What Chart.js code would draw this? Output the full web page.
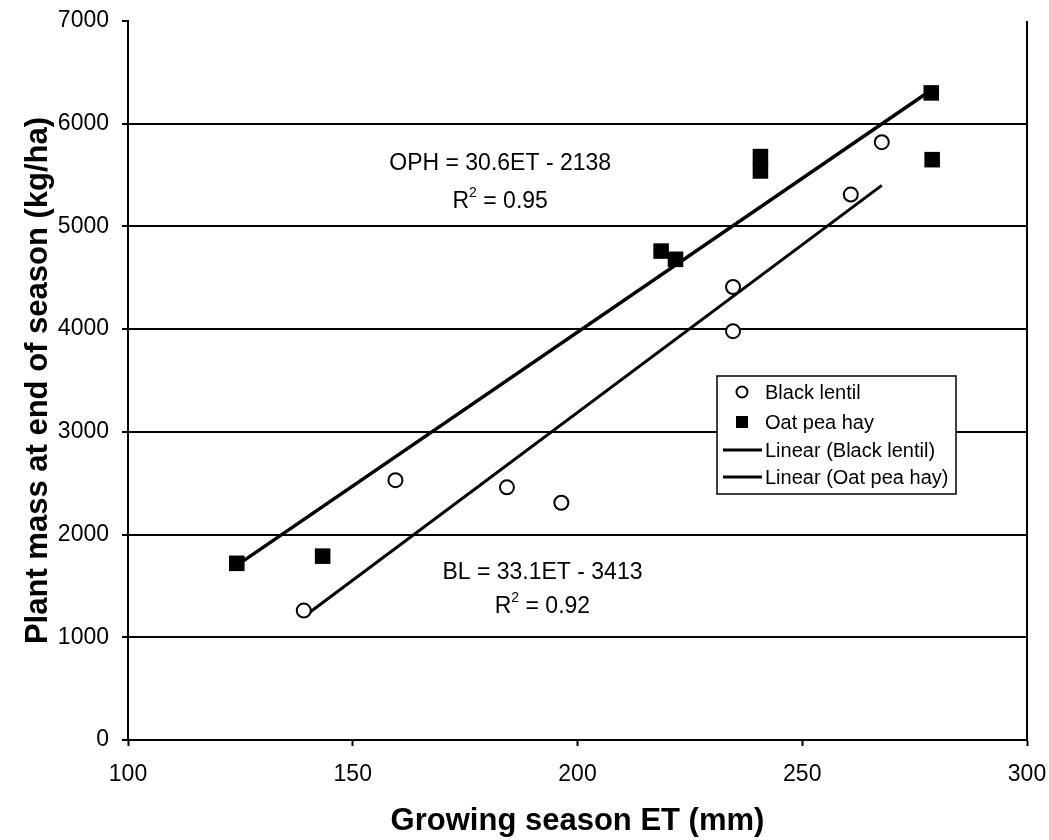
<!DOCTYPE html>
<html>
<head>
<meta charset="utf-8">
<script src="https://cdn.jsdelivr.net/npm/chart.js@4.4.1/dist/chart.umd.min.js"></script>
<style>
  html, body { margin: 0; padding: 0; background: #ffffff; }
  #wrap { position: relative; width: 1049px; height: 840px; }
</style>
</head>
<body>
<div id="wrap"><canvas id="c" width="1049" height="840"></canvas></div>
<script>
// ---- data ----
const blET   = [139.1, 159.5, 184.3, 196.4, 234.6, 234.6, 260.8, 267.7];
const blMass = [1260, 2530, 2460, 2310, 4410, 3980, 5310, 5820];
const ophET   = [124.2, 143.3, 218.6, 221.8, 240.7, 240.7, 278.7, 278.9];
const ophMass = [1720, 1790, 4760, 4680, 5680, 5540, 6300, 5650];
const blTrendET   = [139.1, 267.7];
const blTrendMass = [1200, 5400];
const ophTrendET   = [124.2, 278.8];
const ophTrendMass = [1700, 6330];
const xTicks = [100, 150, 200, 250, 300];
const yTicks = [0, 1000, 2000, 3000, 4000, 5000, 6000, 7000];
const seriesLabels = ['Black lentil', 'Oat pea hay', 'Linear (Black lentil)', 'Linear (Oat pea hay)'];
const xTitle = 'Growing season ET (mm)';
const yTitle = 'Plant mass at end of season (kg/ha)';
const eqOPH = ['OPH = 30.6ET - 2138', '0.95'];
const eqBL  = ['BL = 33.1ET - 3413', '0.92'];

const FONT = "'Liberation Sans', Arial, Helvetica, sans-serif";
const pts = (xs, ys) => xs.map((x, i) => ({ x: x, y: ys[i] }));

// annotation anchors (data space) for the equation text blocks
const annotations = [
  { lines: eqOPH, x: 182.8, y: 5610, y2: 5245 },
  { lines: eqBL,  x: 192.2, y: 1625, y2: 1300 }
];

const annotationPlugin = {
  id: 'eqText',
  afterDatasetsDraw(chart) {
    const ctx = chart.ctx, xs = chart.scales.x, ys = chart.scales.y;
    ctx.save();
    ctx.fillStyle = '#000';
    ctx.textBaseline = 'middle';
    annotations.forEach(a => {
      const cx = xs.getPixelForValue(a.x);
      ctx.font = '23px ' + FONT;
      ctx.textAlign = 'center';
      ctx.fillText(a.lines[0], cx, ys.getPixelForValue(a.y));
      const y2 = ys.getPixelForValue(a.y2);
      const partR = 'R', partRest = ' = ' + a.lines[1];
      const wR = ctx.measureText(partR).width;
      const wRest = ctx.measureText(partRest).width;
      ctx.font = '14px ' + FONT;
      const wSup = ctx.measureText('2').width;
      const total = wR + wSup + wRest;
      const sx = cx - total / 2;
      ctx.textAlign = 'left';
      ctx.font = '23px ' + FONT;
      ctx.fillText(partR, sx, y2);
      ctx.font = '14px ' + FONT;
      ctx.fillText('2', sx + wR, y2 - 8);
      ctx.font = '23px ' + FONT;
      ctx.fillText(partRest, sx + wR + wSup, y2);
    });
    ctx.restore();
  }
};

const frameLegendPlugin = {
  id: 'frameLegend',
  afterDraw(chart) {
    const ctx = chart.ctx, ca = chart.chartArea;
    ctx.save();
    ctx.strokeStyle = '#000';
    ctx.lineWidth = 2;
    ctx.beginPath();
    ctx.moveTo(ca.right, ca.top);
    ctx.lineTo(ca.right, ca.bottom);
    ctx.stroke();
    // legend box
    const lx = ca.left + 589, ly = ca.top + 355, lw = 239, lh = 118;
    ctx.fillStyle = '#fff';
    ctx.fillRect(lx, ly, lw, lh);
    ctx.lineWidth = 1.5;
    ctx.strokeRect(lx, ly, lw, lh);
    const rowY = [16, 46, 74, 101];
    ctx.font = '20px ' + FONT;
    ctx.textBaseline = 'middle';
    ctx.textAlign = 'left';
    chart.data.datasets.forEach((ds, i) => {
      const y = ly + rowY[i];
      const mx = lx + 25;
      if (i === 0) {
        ctx.beginPath();
        ctx.arc(mx, y, 5.5, 0, Math.PI * 2);
        ctx.fillStyle = '#fff';
        ctx.fill();
        ctx.lineWidth = 2;
        ctx.strokeStyle = '#000';
        ctx.stroke();
      } else if (i === 1) {
        ctx.fillStyle = '#000';
        ctx.fillRect(mx - 6, y - 6, 12, 12);
      } else {
        ctx.strokeStyle = '#000';
        ctx.lineWidth = 3;
        ctx.beginPath();
        ctx.moveTo(lx + 6, y);
        ctx.lineTo(lx + 45, y);
        ctx.stroke();
      }
      ctx.fillStyle = '#000';
      ctx.fillText(ds.label, lx + 48, y + 1);
    });
    ctx.restore();
  }
};

new Chart(document.getElementById('c'), {
  type: 'scatter',
  data: {
    datasets: [
      {
        label: seriesLabels[0],
        data: pts(blET, blMass),
        pointStyle: 'circle',
        pointRadius: 7,
        pointBorderWidth: 2,
        pointBackgroundColor: '#fff',
        pointBorderColor: '#000',
        order: 1
      },
      {
        label: seriesLabels[1],
        data: pts(ophET, ophMass),
        pointStyle: 'rect',
        pointRadius: 11,
        pointBorderWidth: 0,
        pointBackgroundColor: '#000',
        pointBorderColor: '#000',
        order: 1
      },
      {
        label: seriesLabels[2],
        type: 'line',
        data: pts(blTrendET, blTrendMass),
        borderColor: '#000',
        borderWidth: 3,
        pointRadius: 0,
        fill: false,
        order: 2
      },
      {
        label: seriesLabels[3],
        type: 'line',
        data: pts(ophTrendET, ophTrendMass),
        borderColor: '#000',
        borderWidth: 3.5,
        pointRadius: 0,
        fill: false,
        order: 2
      }
    ]
  },
  options: {
    responsive: false,
    animation: false,
    devicePixelRatio: 1,
    layout: { padding: { top: 21, right: 22, left: 0, bottom: 0 } },
    plugins: {
      legend: { display: false },
      tooltip: { enabled: false }
    },
    scales: {
      x: {
        type: 'linear',
        min: xTicks[0],
        max: xTicks[xTicks.length - 1],
        afterBuildTicks: s => { s.ticks = xTicks.map(v => ({ value: v })); },
        afterFit: s => { s.height = 100; s.paddingLeft = 0; s.paddingRight = 0; },
        grid: {
          display: true,
          drawOnChartArea: false,
          drawTicks: true,
          tickLength: 6,
          tickColor: '#000',
          tickWidth: 2
        },
        border: { display: true, color: '#000', width: 2 },
        ticks: {
          color: '#000',
          font: { family: FONT, size: 23 },
          padding: 15,
          maxRotation: 0,
          callback: v => String(v)
        },
        title: {
          display: true,
          text: xTitle,
          color: '#000',
          font: { family: FONT, size: 31, weight: 'bold' },
          padding: { top: 0, bottom: 0 }
        }
      },
      y: {
        type: 'linear',
        min: yTicks[0],
        max: yTicks[yTicks.length - 1],
        afterBuildTicks: s => { s.ticks = yTicks.map(v => ({ value: v })); },
        afterFit: s => { s.width = 128; s.paddingTop = 0; s.paddingBottom = 0; },
        grid: {
          display: true,
          drawOnChartArea: true,
          drawTicks: true,
          tickLength: 6,
          color: ctx => (ctx.tick && (ctx.tick.value === 7000 || ctx.tick.value === 0)) ? 'rgba(0,0,0,0)' : '#000',
          lineWidth: 2,
          tickColor: '#000',
          tickWidth: 2
        },
        border: { display: true, color: '#000', width: 2 },
        ticks: {
          color: '#000',
          font: { family: FONT, size: 23 },
          padding: 13,
          callback: v => String(v)
        },
        title: {
          display: true,
          text: yTitle,
          color: '#000',
          font: { family: FONT, size: 31, weight: 'bold' },
          padding: { top: 20, bottom: 0 }
        }
      }
    }
  },
  plugins: [annotationPlugin, frameLegendPlugin]
});
</script>
</body>
</html>
